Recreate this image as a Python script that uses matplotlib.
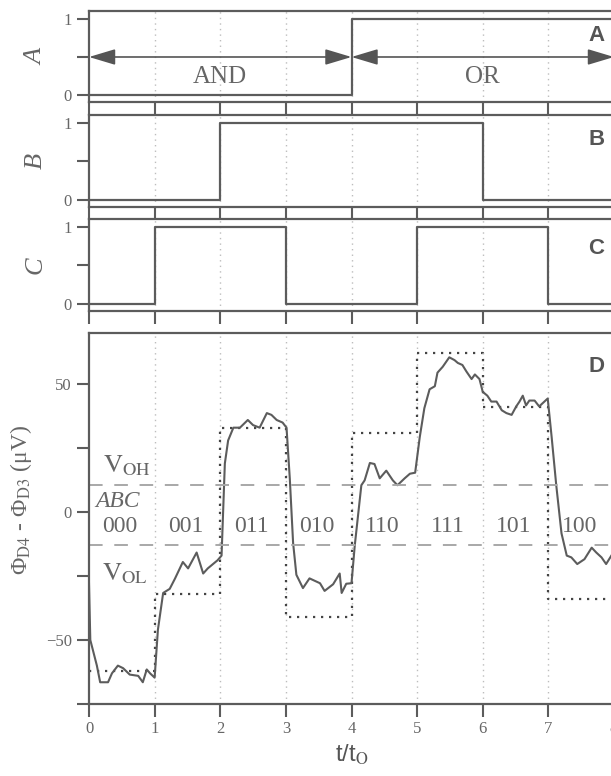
import matplotlib.pyplot as plt
import numpy as np

plt.rcParams['font.family'] = ['Liberation Serif', 'DejaVu Serif']
plt.rcParams['mathtext.fontset'] = 'stix'

# time edges (t/t0) and logic inputs per interval
t_edges = [0, 1, 2, 3, 4, 5, 6, 7, 8]
a_vals = [0, 0, 0, 0, 1, 1, 1, 1]
b_vals = [0, 0, 1, 1, 1, 1, 0, 0]
c_vals = [0, 1, 1, 0, 0, 1, 1, 0]
ideal_vals = [-62, -32, 33, -41, 31, 62, 41, -34]
codes = ['000', '001', '011', '010', '110', '111', '101', '100']
v_oh = 10.5
v_ol = -13

meas_t = [0.0, 0.02, 0.12, 0.17, 0.29, 0.35, 0.44, 0.52, 0.62, 0.75, 0.82, 0.88, 0.93, 1.0,
          1.05, 1.13, 1.23, 1.31, 1.43, 1.51, 1.64, 1.74, 1.81, 1.96, 2.02,
          2.07, 2.12, 2.2, 2.3, 2.42, 2.5, 2.6, 2.71, 2.78, 2.86, 2.95, 3.01,
          3.06, 3.11, 3.16, 3.26, 3.36, 3.52, 3.59, 3.72, 3.82, 3.85, 3.92, 4.0,
          4.05, 4.15, 4.2, 4.28, 4.35, 4.43, 4.53, 4.63, 4.7, 4.81, 4.89, 4.97,
          5.04, 5.11, 5.19, 5.27, 5.31, 5.39, 5.49, 5.57, 5.62, 5.69, 5.75, 5.83,
          5.88, 5.95, 6.0, 6.07, 6.13, 6.21, 6.29, 6.36, 6.44, 6.51, 6.56, 6.61,
          6.66, 6.71, 6.79, 6.86, 6.91, 6.99,
          7.05, 7.12, 7.2, 7.28, 7.35, 7.44, 7.55, 7.66, 7.73, 7.81, 7.88, 7.96]
meas_v = [-28, -50, -60, -66.5, -66.5, -63, -60, -61, -63.5, -64, -66.5, -61.5, -63, -64.7,
          -46, -31.6, -30, -26, -19.5, -22, -15.8, -24, -22, -18.8, -17,
          19, 28, 33, 33, 36, 34, 33, 38.7, 38, 36, 35, 33,
          13, -12, -24.5, -29.7, -25.9, -27.8, -30.8, -28.2, -24, -31.6, -28, -27.8,
          -13, 10.5, 12.4, 19.2, 18.8, 13.2, 16.2, 12.4, 10.5, 13.2, 15, 15.4,
          29.3, 40.6, 48, 49.2, 54.5, 56.8, 60.5, 59.4, 58.3, 57.5, 55, 52,
          53.8, 52, 47, 45.5, 43.2, 43.2, 39.8, 38.7, 38, 41.3, 43.2, 45.5,
          41.7, 43.6, 43.6, 41.3, 42.5, 44.4,
          29.3, 10.5, -8.3, -17, -17.7, -20.3, -18.4, -13.9, -15.8, -17.7, -20.3, -17]

line_c = '#5c5c5c'
text_c = '#666666'
grid_c = '#bdbdbd'

fig = plt.figure(figsize=(6.11, 7.76), dpi=100)
left = 89 / 611
width = 525 / 611

def frac(top_px, bot_px):
    return [left, 1 - bot_px / 776, width, (bot_px - top_px) / 776]

ax_a = fig.add_axes(frac(11, 102))
ax_b = fig.add_axes(frac(115, 207))
ax_c = fig.add_axes(frac(219, 311))
ax_d = fig.add_axes(frac(333, 704))

def style(ax):
    for s in ax.spines.values():
        s.set_color(line_c)
        s.set_linewidth(1.6)
    ax.tick_params(direction='out', length=9, width=1.5, color=line_c,
                   labelcolor=text_c, labelsize=12)
    ax.tick_params(which='minor', direction='out', length=9, width=1.5, color=line_c)
    ax.set_xlim(0, 8)
    ax.set_xticks(t_edges)
    for x in t_edges[1:-1]:
        ax.axvline(x, color=grid_c, ls=(0, (1, 3)), lw=1, zorder=0)

logic = [(ax_a, a_vals, 'A'), (ax_b, b_vals, 'B'), (ax_c, c_vals, 'C')]
for ax, vals, name in logic:
    style(ax)
    ax.step(t_edges, vals + [vals[-1]], where='post', color=line_c, lw=1.6)
    ax.set_ylim(-0.092, 1.105)
    ax.set_yticks([0, 1])
    ax.set_yticks([0.5], minor=True)
    ax.set_xticklabels([])
    ax.set_ylabel(name, fontsize=19, style='italic', color=text_c)
    ax.yaxis.set_label_coords(-0.08, 0.5)
    ax.text(7.73, 0.78 if name != 'C' else 0.72, name, fontsize=16, fontweight='bold',
            family='Liberation Sans', color='#555555', ha='center', va='center')

# AND / OR ranges
arrow = dict(arrowstyle='<|-|>,head_length=0.9,head_width=0.27', mutation_scale=18,
             shrinkA=0, shrinkB=0, lw=1.2, color='#555555')
ax_a.annotate('', xy=(0, 0.5), xytext=(4, 0.5), arrowprops=arrow)
ax_a.annotate('', xy=(4, 0.5), xytext=(8, 0.5), arrowprops=arrow)
ax_a.text(2, 0.24, 'AND', fontsize=18, color=text_c, ha='center', va='center')
ax_a.text(6, 0.24, 'OR', fontsize=18, color=text_c, ha='center', va='center')

# panel D
style(ax_d)
ax_d.set_ylim(-70, 70)
ax_d.set_yticks([-50, 0, 50])
ax_d.set_yticks([-75, -25, 25], minor=True)
ax_d.plot(t_edges, ideal_vals + [ideal_vals[-1]], drawstyle='steps-post',
          color='#444444', ls=(0, (1, 2.6)), lw=1.6)
ax_d.plot(meas_t, meas_v, color=line_c, lw=1.5)
ax_d.axhline(v_oh, color='#a8a8a8', ls=(0, (7, 6)), lw=1.4)
ax_d.axhline(v_ol, color='#a8a8a8', ls=(0, (7, 6)), lw=1.4)
for i, code in enumerate(codes):
    ax_d.text(i + 0.47, -5.6, code, fontsize=17, color=text_c, ha='center', va='center')
ax_d.text(0.1, 4, 'ABC', fontsize=17, style='italic', color=text_c, ha='left', va='center')
ax_d.text(0.22, 18, r'$\mathrm{V}_{\mathrm{OH}}$', fontsize=19, color=text_c,
          ha='left', va='center')
ax_d.text(0.2, -24, r'$\mathrm{V}_{\mathrm{OL}}$', fontsize=19, color=text_c,
          ha='left', va='center')
ax_d.text(7.73, 56.8, 'D', fontsize=16, fontweight='bold', family='Liberation Sans',
          color='#555555', ha='center', va='center')
ax_d.set_ylabel('Φ$_{\\mathrm{D4}}$ - Φ$_{\\mathrm{D3}}$ (μV)', fontsize=17,
                color=text_c)
ax_d.yaxis.set_label_coords(-0.105, 0.55)
ax_d.set_xlabel(r't/t$_{\mathrm{O}}$', fontsize=17, family='Liberation Sans',
                color='#555555', labelpad=6)
ax_d.xaxis.set_label_coords(0.5, -0.105)

fig.savefig('out.png', dpi=100)
